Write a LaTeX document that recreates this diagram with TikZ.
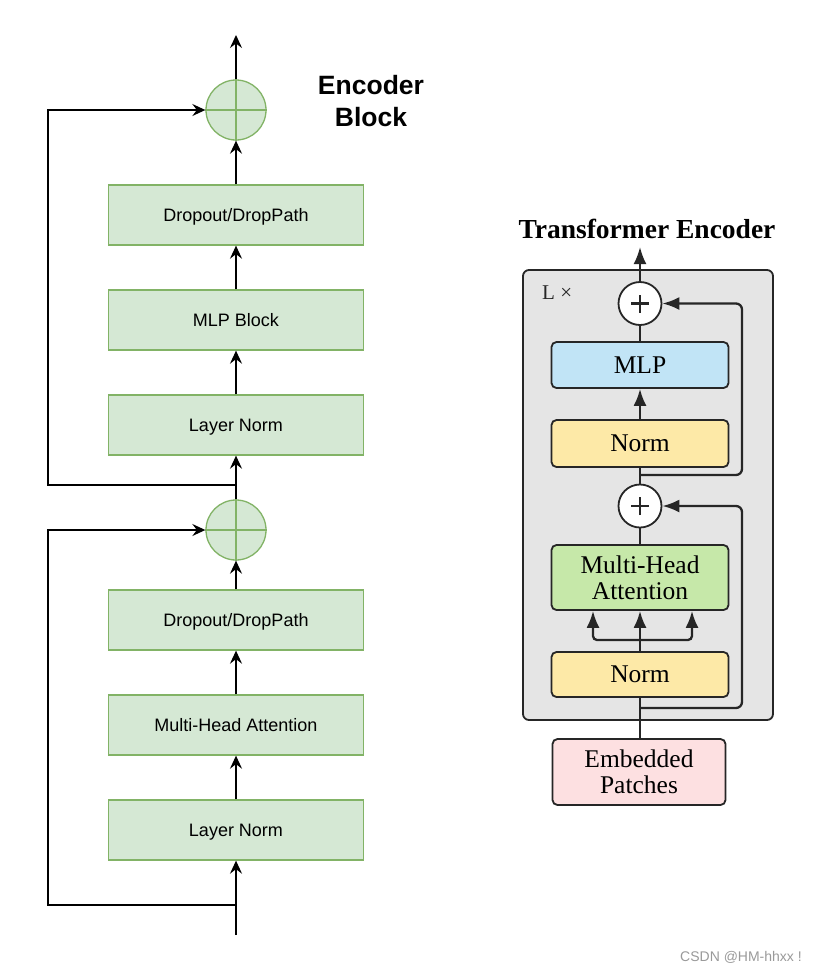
\documentclass[tikz,border=0pt]{standalone}
\usepackage{fontspec}
\setmainfont{Liberation Serif}
\setsansfont{Liberation Sans}
\usetikzlibrary{arrows.meta}
\definecolor{lgfill}{HTML}{D5E8D4}
\definecolor{lgstroke}{HTML}{82B366}
\definecolor{rdark}{HTML}{262626}
\definecolor{rgray}{HTML}{E5E5E5}
\definecolor{rblue}{HTML}{C1E4F6}
\definecolor{ryellow}{HTML}{FDE9A7}
\definecolor{rgreen}{HTML}{C6E8A9}
\definecolor{rpink}{HTML}{FDE0E1}
\definecolor{wmgray}{HTML}{9A9A9A}
\tikzset{
  lbox/.style={draw=lgstroke, fill=lgfill, line width=1.3pt, minimum width=255pt, minimum height=60pt, inner sep=0pt, text height=13pt, text depth=1pt, font=\sffamily\fontsize{18}{21}\selectfont},
  lcirc/.style={circle, draw=lgstroke, fill=lgfill, line width=1.3pt, minimum size=60pt, inner sep=0pt},
  larr/.style={-{Stealth[length=13pt,width=12pt,inset=4.5pt]}, line width=1.5pt},
  rbox/.style={draw=rdark, rounded corners=5pt, line width=1.8pt, minimum width=177pt, inner sep=0pt, font=\rmfamily\fontsize{25.5}{26}\selectfont, align=center},
  rcirc/.style={circle, draw=rdark, fill=white, line width=1.8pt, minimum size=43pt, inner sep=0pt},
  rarr/.style={-{Latex[length=17pt,width=13pt]}, line width=2.3pt, draw=rdark},
  rline/.style={line width=2.3pt, draw=rdark},
  rplus/.style={line width=2.4pt, draw=rdark},
}
\begin{document}
\begin{tikzpicture}[x=1pt,y=-1pt]
\useasboundingbox (0,0) rectangle (820,978);
\fill[white] (0,0) rectangle (820,978);

% ---------- left: Encoder Block ----------
\node[lcirc] (c1) at (236,110) {};
\draw[draw=lgstroke, line width=1.3pt] (c1.north) -- (c1.south) (c1.west) -- (c1.east);
\node[lbox] (d1) at (236,215) {Dropout/DropPath};
\node[lbox] (m1) at (236,320) {MLP Block};
\node[lbox] (n1) at (236,425) {Layer Norm};
\node[lcirc] (c2) at (236,530) {};
\draw[draw=lgstroke, line width=1.3pt] (c2.north) -- (c2.south) (c2.west) -- (c2.east);
\node[lbox] (d2) at (236,620) {Dropout/DropPath};
\node[lbox] (a2) at (236,725) {Multi-Head Attention};
\node[lbox] (n2) at (236,830) {Layer Norm};
\node[font=\sffamily\bfseries\fontsize{26.5}{32}\selectfont, align=center] (eb) at (371,101.5) {Encoder\\Block};

\coordinate (out) at (236,35);
\coordinate (in) at (236,935);
\coordinate (s1) at (236,485);
\coordinate (s1c) at (48,485);
\coordinate (s2) at (236,905);
\coordinate (s2c) at (48,905);

\draw[larr] (c1.north) -- (out);
\draw[larr] (d1.north) -- (c1.south);
\draw[larr] (m1.north) -- (d1.south);
\draw[larr] (n1.north) -- (m1.south);
\draw[larr] (c2.north) -- (n1.south);
\draw[larr] (d2.north) -- (c2.south);
\draw[larr] (a2.north) -- (d2.south);
\draw[larr] (n2.north) -- (a2.south);
\draw[larr] (in) -- (n2.south);
\draw[larr] (s1) -- (s1c) |- (c1.west);
\draw[larr] (s2) -- (s2c) |- (c2.west);

% ---------- right: Transformer Encoder ----------
\node[draw=rdark, fill=rgray, rounded corners=6pt, line width=1.8pt, minimum width=250pt, minimum height=450pt, inner sep=0pt] (gbox) at (648,495) {};
\node[font=\rmfamily\bfseries\fontsize{27.5}{30}\selectfont, anchor=base] (title) at (647,238) {Transformer Encoder};
\node[font=\rmfamily\fontsize{21}{24}\selectfont, anchor=base west, inner sep=0pt, text=rdark] (lx) at (542,299) {L ×};

\node[rcirc] (rc1) at (640,303.5) {};
\draw[rplus] ([xshift=-9pt]rc1.center) -- ([xshift=9pt]rc1.center);
\draw[rplus] ([yshift=-9pt]rc1.center) -- ([yshift=9pt]rc1.center);
\node[rbox, fill=rblue, minimum height=46pt] (mlp) at (640,365) {MLP};
\node[rbox, fill=ryellow, minimum height=47pt] (rn1) at (640,443.5) {Norm};
\node[rcirc] (rc2) at (640,506) {};
\draw[rplus] ([xshift=-9pt]rc2.center) -- ([xshift=9pt]rc2.center);
\draw[rplus] ([yshift=-9pt]rc2.center) -- ([yshift=9pt]rc2.center);
\node[rbox, fill=rgreen, minimum height=65pt] (mha) at (640,577.5) {Multi-Head\\Attention};
\node[rbox, fill=ryellow, minimum height=45pt] (rn2) at (640,674.5) {Norm};
\node[rbox, fill=rpink, minimum width=173pt, minimum height=66pt] (emb) at (639,772) {Embedded\\Patches};

\coordinate (rtop) at (640,247);
\coordinate (b1) at (640,475);
\coordinate (b1r) at (742,475);
\coordinate (b2) at (640,708);
\coordinate (b2r) at (742,708);
\coordinate (sp) at (640,640);
\coordinate (spl) at (593,640);
\coordinate (spr) at (692,640);

\draw[rarr] (rc1.north) -- (rtop);
\draw[rline] (rc1.south) -- (mlp.north);
\draw[rarr] (rn1.north) -- (mlp.south);
\draw[rline] (rn1.south) -- (rc2.north);
\draw[rarr, rounded corners=6pt] (b1) -- (b1r) |- (rc1.east);
\draw[rline] (rc2.south) -- (mha.north);
\draw[rline] (rn2.north) -- (sp);
\draw[rarr, rounded corners=4pt] (sp) -- (spl) -- (spl |- mha.south);
\draw[rarr] (sp) -- (mha.south);
\draw[rarr, rounded corners=4pt] (sp) -- (spr) -- (spr |- mha.south);
\draw[rarr, rounded corners=6pt] (b2) -- (b2r) |- (rc2.east);
\draw[rline] (emb.north -| rn2.south) -- (rn2.south);

\node[font=\sffamily\fontsize{14}{16}\selectfont, text=wmgray] (wm) at (741,957) {CSDN @HM-hhxx !};
\end{tikzpicture}
\end{document}
